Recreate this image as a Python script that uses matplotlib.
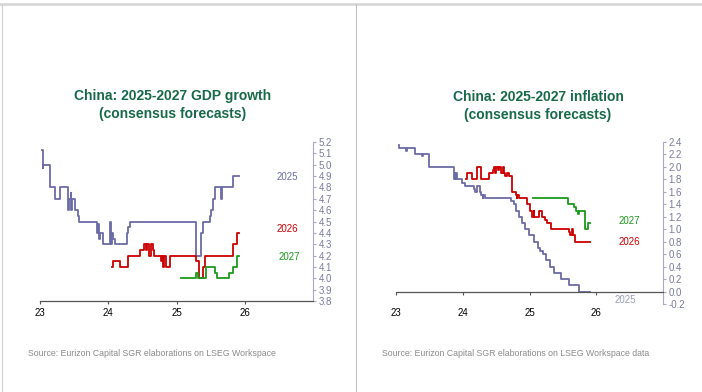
import numpy as np
import matplotlib.pyplot as plt
from matplotlib import ticker
from matplotlib.lines import Line2D

plt.rcParams["font.family"] = ["Liberation Sans", "DejaVu Sans"]

# GDP growth consensus (date in years since 2000, value %)
gdp25_x = [23.03, 23.04, 23.05, 23.14, 23.22, 23.30, 23.41, 23.42, 23.45, 23.46, 23.47,
           23.51, 23.56, 23.57, 23.83, 23.84, 23.85, 23.86, 23.88, 23.92, 24.03, 24.04,
           24.05, 24.07, 24.10, 24.27, 24.29, 24.32, 25.29, 25.36, 25.39, 25.49, 25.51,
           25.54, 25.57, 25.65, 25.66, 25.83, 25.91]
gdp25_y = [5.13, 4.97, 5.0, 4.8, 4.7, 4.8, 4.6, 4.7, 4.75, 4.6, 4.7,
           4.6, 4.55, 4.5, 4.45, 4.4, 4.48, 4.35, 4.4, 4.3, 4.5, 4.3,
           4.4, 4.35, 4.3, 4.4, 4.45, 4.5, 4.2, 4.4, 4.5, 4.55, 4.6,
           4.7, 4.8, 4.7, 4.8, 4.9, 4.9]
gdp26_x = [24.06, 24.07, 24.17, 24.29, 24.47, 24.53, 24.55, 24.57, 24.59, 24.62, 24.63,
           24.66, 24.67, 24.78, 24.79, 24.80, 24.81, 24.84, 24.91, 25.29, 25.33, 25.39,
           25.42, 25.83, 25.89, 25.91]
gdp26_y = [4.10, 4.15, 4.10, 4.20, 4.25, 4.30, 4.25, 4.30, 4.20, 4.25, 4.30,
           4.25, 4.20, 4.15, 4.20, 4.10, 4.20, 4.10, 4.20, 4.15, 4.00, 4.10,
           4.20, 4.30, 4.40, 4.40]
gdp27_x = [25.06, 25.29, 25.32, 25.43, 25.56, 25.60, 25.77, 25.83, 25.89, 25.91]
gdp27_y = [4.0, 4.05, 4.0, 4.1, 4.05, 4.0, 4.05, 4.1, 4.2, 4.2]

# Inflation consensus
inf25_x = [23.04, 23.05, 23.15, 23.17, 23.29, 23.39, 23.41, 23.49, 23.87, 23.88, 23.89,
           23.90, 23.92, 23.99, 24.04, 24.17, 24.19, 24.22, 24.26, 24.28, 24.30, 24.31,
           24.34, 24.72, 24.77, 24.80, 24.84, 24.89, 24.94, 24.99, 25.07, 25.12, 25.16,
           25.20, 25.25, 25.30, 25.37, 25.47, 25.59, 25.74, 25.91]
inf25_y = [2.35, 2.30, 2.25, 2.30, 2.20, 2.18, 2.20, 2.00, 1.80, 1.90, 1.80,
           1.90, 1.80, 1.75, 1.70, 1.65, 1.60, 1.70, 1.60, 1.55, 1.50, 1.55,
           1.50, 1.45, 1.40, 1.30, 1.20, 1.10, 1.00, 0.90, 0.80, 0.70, 0.65,
           0.60, 0.50, 0.40, 0.30, 0.20, 0.10, 0.00, 0.00]
inf26_x = [24.05, 24.07, 24.14, 24.22, 24.27, 24.28, 24.40, 24.45, 24.47, 24.49, 24.50,
           24.53, 24.55, 24.58, 24.60, 24.62, 24.64, 24.66, 24.70, 24.74, 24.80, 24.81,
           24.82, 24.84, 24.97, 25.00, 25.03, 25.06, 25.07, 25.14, 25.19, 25.23, 25.26,
           25.32, 25.59, 25.61, 25.63, 25.65, 25.68, 25.91]
inf26_y = [1.80, 1.90, 1.80, 2.00, 1.90, 1.80, 1.90, 1.95, 2.00, 1.90, 2.00,
           1.95, 2.00, 1.90, 2.00, 1.90, 1.85, 1.90, 1.85, 1.60, 1.55, 1.50,
           1.55, 1.50, 1.40, 1.30, 1.20, 1.30, 1.20, 1.30, 1.20, 1.15, 1.10,
           1.00, 0.95, 0.90, 1.00, 0.90, 0.80, 0.80]
inf27_x = [25.05, 25.58, 25.67, 25.69, 25.72, 25.74, 25.83, 25.88, 25.91]
inf27_y = [1.5, 1.4, 1.35, 1.30, 1.25, 1.30, 1.00, 1.10, 1.10]

xticks = [23, 24, 25, 26]
xtick_labels = ["23", "24", "25", "26"]

c_blue = "#6b6ba6"
c_red = "#cc0000"
c_green = "#1c9a1c"
c_axis = "#a8a8c8"
c_ticklab = "#7a7aa0"
c_title = "#17694a"

fig = plt.figure(figsize=(7.02, 3.92), dpi=100)

# frame lines of the page
fig.add_artist(Line2D([0, 1], [1 - 4 / 392] * 2, color="#d8d8d8", lw=2.0))
fig.add_artist(Line2D([1.5 / 702] * 2, [0, 1 - 4 / 392], color="#d0d0d0", lw=0.8))
fig.add_artist(Line2D([356 / 702] * 2, [0, 1 - 4 / 392], color="#c0c0c0", lw=0.8))

ax1 = fig.add_axes([40 / 702, 1 - 301 / 392, 273 / 702, 159 / 392])
ax2 = fig.add_axes([396 / 702, 1 - 304 / 392, 267 / 702, 162 / 392])

lw = 1.3
ax1.step(gdp25_x, gdp25_y, where="post", color=c_blue, lw=lw)
ax1.step(gdp26_x, gdp26_y, where="post", color=c_red, lw=lw)
ax1.step(gdp27_x, gdp27_y, where="post", color=c_green, lw=lw)
ax1.set_ylim(3.8, 5.2)
ax1.yaxis.set_major_locator(ticker.MultipleLocator(0.1))
ax1.yaxis.set_major_formatter(ticker.FormatStrFormatter("%.1f"))
ax1.text(26.47, 4.89, "2025", color=c_blue, fontsize=7, va="center")
ax1.text(26.47, 4.43, "2026", color=c_red, fontsize=7, va="center")
ax1.text(26.5, 4.19, "2027", color=c_green, fontsize=7, va="center")

ax2.step(inf25_x, inf25_y, where="post", color=c_blue, lw=lw)
ax2.step(inf26_x, inf26_y, where="post", color=c_red, lw=lw)
ax2.step(inf27_x, inf27_y, where="post", color=c_green, lw=lw)
ax2.set_ylim(-0.2, 2.4)
ax2.yaxis.set_major_locator(ticker.MultipleLocator(0.2))
ax2.yaxis.set_major_formatter(ticker.FormatStrFormatter("%.1f"))
ax2.spines["bottom"].set_position(("data", 0))
ax2.text(26.34, 1.14, "2027", color=c_green, fontsize=7, va="center")
ax2.text(26.34, 0.79, "2026", color=c_red, fontsize=7, va="center")
ax2.text(26.28, -0.13, "2025", color="#9a9ac0", fontsize=7, va="center")

for ax in (ax1, ax2):
    ax.set_xlim(23, 27)
    ax.set_xticks(xticks)
    ax.set_xticklabels(xtick_labels)
    ax.spines["left"].set_visible(False)
    ax.spines["top"].set_visible(False)
    ax.spines["right"].set_color(c_axis)
    ax.spines["bottom"].set_color("#555555")
    ax.spines["bottom"].set_linewidth(0.9)
    ax.yaxis.tick_right()
    ax.tick_params(axis="y", colors=c_axis, labelcolor=c_ticklab, labelsize=7,
                   length=2.5, width=0.8, pad=1.5)
    ax.tick_params(axis="x", labelsize=7, length=2, width=0.8, color="#555555", pad=3)
    ax.patch.set_alpha(0)

ax2.tick_params(axis="x", pad=10)

title_kw = dict(color=c_title, fontsize=10, fontweight="bold", ha="center", va="center",
                family=["Liberation Sans", "DejaVu Sans"], linespacing=1.45)
fig.text(173 / 702, 1 - 105 / 392, "China: 2025-2027 GDP growth\n(consensus forecasts)", **title_kw)
fig.text(538 / 702, 1 - 106 / 392, "China: 2025-2027 inflation\n(consensus forecasts)", **title_kw)

src_kw = dict(color="#8a8a8a", fontsize=6.3, va="center", ha="left")
fig.text(28 / 702, 1 - 354 / 392, "Source: Eurizon Capital SGR elaborations on LSEG Workspace", **src_kw)
fig.text(382 / 702, 1 - 354 / 392, "Source: Eurizon Capital SGR elaborations on LSEG Workspace data", **src_kw)

fig.savefig("out.png", dpi=100)
